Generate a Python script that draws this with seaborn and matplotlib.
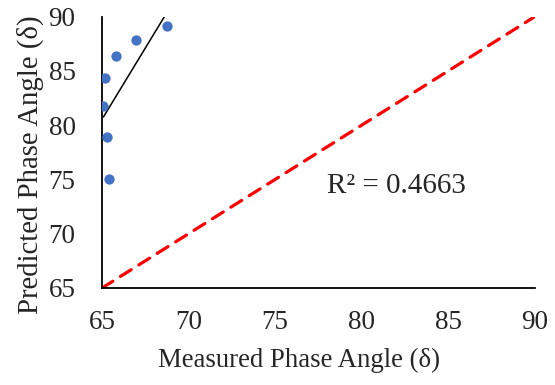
import numpy as np
import pandas as pd
import matplotlib
matplotlib.use("Agg")
import matplotlib.pyplot as plt
import seaborn as sns

# Measured vs predicted phase angle (degrees)
measured = [65.08, 65.17, 65.31, 65.40, 65.81, 66.96, 68.74]
predicted = [81.8, 84.3, 78.9, 75.05, 86.34, 87.8, 89.17]
ticks = [65, 70, 75, 80, 85, 90]
r2_label = "R² = 0.4663"

df = pd.DataFrame({"measured": measured, "predicted": predicted})

sns.set_theme(style="white")
plt.rcParams["font.family"] = ["Liberation Serif", "DejaVu Serif"]

fig = plt.figure(figsize=(5.55, 3.85), dpi=100)
ax = fig.add_axes([0.1838, 0.252, 0.780, 0.705])

# 1:1 reference line
ax.plot([ticks[0], ticks[-1]], [ticks[0], ticks[-1]], color="#FF0000",
        linestyle=(0, (4, 2.8)), linewidth=2.3, dash_capstyle="round", zorder=1)

# Observations with least-squares trendline over the data range
sns.regplot(data=df, x="measured", y="predicted", ax=ax, ci=None, truncate=True,
            scatter_kws={"s": 55, "color": "#4472C4", "linewidths": 0, "alpha": 1, "zorder": 3},
            line_kws={"color": "black", "linewidth": 1.1, "zorder": 2})

ax.text(78.0, 74.4, r2_label, fontsize=21, va="center", ha="left")

ax.set_xlim(ticks[0], ticks[-1])
ax.set_ylim(ticks[0], ticks[-1])
ax.set_xticks(ticks)
ax.set_yticks(ticks)
ax.tick_params(axis="both", length=0, labelsize=19.5)
ax.tick_params(axis="x", pad=16)
ax.tick_params(axis="y", pad=19)
ax.set_xlabel("Measured Phase Angle (δ)", fontsize=19.3)
ax.set_ylabel("Predicted Phase Angle (δ)", fontsize=20.7)
ax.xaxis.set_label_coords(0.454, -0.221)
ax.yaxis.set_label_coords(-0.135, 0.455)

for side in ("top", "right"):
    ax.spines[side].set_visible(False)
for side in ("left", "bottom"):
    ax.spines[side].set_color("black")
    ax.spines[side].set_linewidth(1.3)

fig.savefig("out.png", dpi=100)
